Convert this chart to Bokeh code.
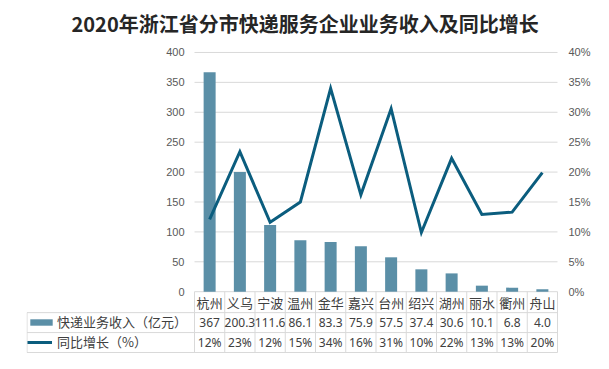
from bokeh.plotting import figure
from bokeh.models import (Range1d, LinearAxis, FixedTicker, PrintfTickFormatter,
                          Legend, LegendItem)
from bokeh.core.properties import value
from bokeh.embed import file_html
from bokeh.resources import INLINE

# ---------------- data ----------------
title_text = "2020年浙江省分市快递服务企业业务收入及同比增长"
cities = ["杭州", "义乌", "宁波", "温州", "金华", "嘉兴", "台州", "绍兴", "湖州", "丽水", "衢州", "舟山"]
revenue = [367, 200.3, 111.6, 86.1, 83.3, 75.9, 57.5, 37.4, 30.6, 10.1, 6.8, 4.0]
revenue_labels = ["367", "200.3", "111.6", "86.1", "83.3", "75.9", "57.5", "37.4", "30.6", "10.1", "6.8", "4.0"]
growth = [12.1, 23.4, 11.6, 15.0, 34.0, 16.2, 30.6, 9.9, 22.3, 12.9, 13.3, 19.9]
growth_labels = [f"{g:.0f}%" for g in growth]
left_ticks = [0, 50, 100, 150, 200, 250, 300, 350, 400]
right_ticks = [0, 5, 10, 15, 20, 25, 30, 35, 40]
series_names = ["快递业务收入（亿元）", "同比增长（%）"]

# ---------------- styling / layout ----------------
BAR_COLOR = "#5b8fa7"
LINE_COLOR = "#0b5d7e"
GRID_COLOR = "#d9d9d9"
TEXT_COLOR = "#404040"
TICK_COLOR = "#595959"
CJK = "Noto Sans CJK SC"

W, H = 593, 353
FRAME_LEFT, FRAME_RIGHT = 26, 558   # frame covers the table's legend column too
FRAME_TOP, FRAME_BOTTOM = 42, 353
PLOT_LEFT = 194                     # canvas x where the category area starts
COL_PX = 30.25
ZERO_PX = 291                       # canvas y of value 0
PX_PER_UNIT = 240 / 400.0

def data_y(canvas_y):
    return (ZERO_PX - canvas_y) / PX_PER_UNIT

def data_x(canvas_x):
    return -0.5 + (canvas_x - PLOT_LEFT) / COL_PX

y_end, y_start = data_y(FRAME_TOP), data_y(FRAME_BOTTOM)
x_start, x_end = data_x(FRAME_LEFT), data_x(FRAME_RIGHT)
n = len(cities)
idx = list(range(n))
x_lo, x_hi = -0.5, n - 0.5

p = figure(width=W, height=H, output_backend="svg", toolbar_location=None,
           x_range=Range1d(x_start, x_end), y_range=Range1d(y_start, y_end),
           x_axis_location=None, title=title_text)
p.min_border = 0
p.min_border_left = FRAME_LEFT
p.min_border_right = W - FRAME_RIGHT
p.min_border_top = FRAME_TOP
p.min_border_bottom = 0
p.outline_line_color = None
p.background_fill_color = "white"
p.border_fill_color = "white"

# title
p.title.text_font = CJK
p.title.text_font_size = "20px"
p.title.text_font_style = "bold"
p.title.text_color = "#262626"
p.title.align = "left"
p.title.offset = 45
p.title.standoff = 12

# left axis, drawn at the start of the category area
yax = p.yaxis[0]
yax.fixed_location = x_lo
yax.ticker = FixedTicker(ticks=left_ticks)
yax.axis_line_color = None
yax.major_tick_line_color = None
yax.minor_tick_line_color = None
yax.major_tick_out = 0
yax.major_label_standoff = 10
yax.major_label_text_font = "Liberation Sans"
yax.major_label_text_font_size = "11px"
yax.major_label_text_color = TICK_COLOR

# right axis
p.extra_y_ranges = {"pct": Range1d(y_start / 10.0, y_end / 10.0)}
rax = LinearAxis(y_range_name="pct", ticker=FixedTicker(ticks=right_ticks),
                 formatter=PrintfTickFormatter(format="%d%%"))
rax.axis_line_color = None
rax.major_tick_line_color = None
rax.minor_tick_line_color = None
rax.major_tick_out = 0
rax.major_label_standoff = 10
rax.major_label_text_font = "Liberation Sans"
rax.major_label_text_font_size = "11px"
rax.major_label_text_color = TICK_COLOR
p.add_layout(rax, "right")

# grid lines only across the category area
p.xgrid.visible = False
p.ygrid.visible = False
p.segment(x0=[x_lo] * len(left_ticks), x1=[x_hi] * len(left_ticks),
          y0=left_ticks, y1=left_ticks, line_color=GRID_COLOR, line_width=1)

# bars and line
bars = p.vbar(x=idx, top=revenue, width=12 / COL_PX, bottom=0,
              fill_color=BAR_COLOR, line_color=None)
line = p.line(x=idx, y=growth, y_range_name="pct", line_color=LINE_COLOR,
              line_width=3, line_join="miter")

# data table below the plot
r1, r2, r3 = data_y(312), data_y(332), data_y(352)
row_centers = [data_y(301.5), data_y(322), data_y(342)]
table_left = data_x(FRAME_LEFT + 0.5)
bounds = [i - 0.5 for i in range(n + 1)]
p.segment(x0=[table_left] * 3, x1=[x_hi] * 3, y0=[r1, r2, r3], y1=[r1, r2, r3],
          line_color=GRID_COLOR, line_width=1)
p.segment(x0=bounds, x1=bounds, y0=[0] * len(bounds), y1=[r3] * len(bounds),
          line_color=GRID_COLOR, line_width=1)
p.segment(x0=[table_left], x1=[table_left], y0=[r1], y1=[r3],
          line_color=GRID_COLOR, line_width=1)

p.text(x=idx, y=[row_centers[0]] * n, text=cities, text_align="center",
       text_baseline="middle", text_font=value(CJK), text_font_size="13px",
       text_color=TEXT_COLOR)
p.text(x=idx, y=[row_centers[1]] * n, text=revenue_labels, text_align="center",
       text_baseline="middle", text_font=value("Noto Sans"), text_font_size="12px",
       text_color=TEXT_COLOR)
p.text(x=idx, y=[row_centers[2]] * n, text=growth_labels, text_align="center",
       text_baseline="middle", text_font=value("Noto Sans"), text_font_size="12px",
       text_color=TEXT_COLOR)

# legend cells (left column of the table)
def make_legend(label, renderer, bottom_canvas, glyph_h, glyph_w):
    leg = Legend(items=[LegendItem(label=label, renderers=[renderer])],
                 location=(1, FRAME_BOTTOM - bottom_canvas))
    leg.padding = 3
    leg.margin = 0
    leg.spacing = 0
    leg.glyph_width = glyph_w
    leg.glyph_height = glyph_h
    leg.label_height = 12
    leg.label_standoff = 30 - glyph_w
    leg.label_width = (PLOT_LEFT - FRAME_LEFT - 2) - 6 - 30
    leg.label_text_font = CJK
    leg.label_text_font_size = "13px"
    leg.label_text_color = TEXT_COLOR
    leg.border_line_color = None
    leg.background_fill_color = "white"
    leg.background_fill_alpha = 0.0
    return leg

p.add_layout(make_legend(series_names[0], bars, 331, 8, 28))
p.add_layout(make_legend(series_names[1], line, 351, 8, 25))

open("out.html", "w").write(file_html(p, INLINE))
